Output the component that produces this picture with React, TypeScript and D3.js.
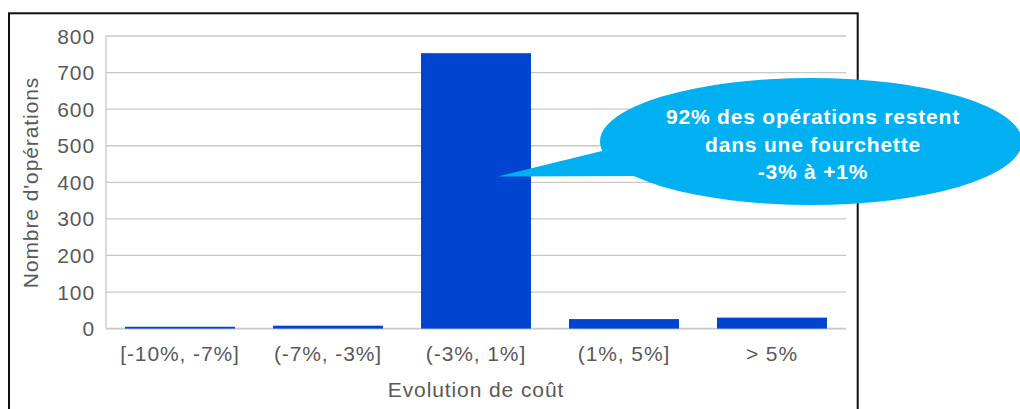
import React from "react";
import * as d3 from "d3";

const categories = ["[-10%, -7%]", "(-7%, -3%]", "(-3%, 1%]", "(1%, 5%]", "> 5%"];
const values = [5, 8, 753, 26, 30];
const yTicks = [0, 100, 200, 300, 400, 500, 600, 700, 800];
const yTitle = "Nombre d'opérations";
const xTitle = "Evolution de coût";
const calloutLines = ["92% des opérations restent", "dans une fourchette", "-3% à +1%"];

const W = 1020;
const H = 409;
const FONT = "'Liberation Sans', Arial, sans-serif";
const TEXT = "#595959";

export default function App() {
  const x = d3.scaleBand<string>().domain(categories).range([106, 846]).paddingInner(0.257).paddingOuter(0.1285);
  const y = d3.scaleLinear().domain([0, 800]).range([328.6, 36]);

  const cx = 811, cy = 141.5, rx = 211, ry = 63.5;
  const tail = d3.line()([[498, 176.5], [606, 150], [640, 176]]) + "Z";

  return (
    <svg width={W} height={H} style={{ position: "absolute", left: 0, top: 0, fontFamily: FONT }}>
      <rect x={0} y={0} width={W} height={H} fill="#fff" />
      {/* frame */}
      <rect x={9} y={13.3} width={848.7} height={500} fill="none" stroke="#111" strokeWidth={2} />
      {/* gridlines */}
      {yTicks.map((t) => (
        <line key={t} x1={106} x2={846} y1={y(t)} y2={y(t)} stroke="#c8c8c8" strokeWidth={t === 0 ? 1.6 : 1.3} />
      ))}
      <line x1={106} x2={106} y1={y(800)} y2={y(0)} stroke="#c8c8c8" strokeWidth={1.3} />
      {/* y tick labels */}
      {yTicks.map((t) => (
        <text key={"l" + t} x={95} y={y(t)} dy="0.36em" textAnchor="end" fontSize={21} letterSpacing={0.9} fill={TEXT}>
          {t}
        </text>
      ))}
      {/* bars */}
      {categories.map((c, i) => (
        <rect key={c} x={x(c)} y={y(values[i])} width={x.bandwidth()} height={y(0) - y(values[i])} fill="#0044cf" />
      ))}
      {/* category labels */}
      {categories.map((c) => (
        <text key={"c" + c} x={(x(c) as number) + x.bandwidth() / 2} y={361} textAnchor="middle" fontSize={21} letterSpacing={0.9} fill={TEXT}>
          {c}
        </text>
      ))}
      <text x={476} y={397} textAnchor="middle" fontSize={21} letterSpacing={0.9} fill={TEXT}>
        {xTitle}
      </text>
      <text transform="translate(38,182.5) rotate(-90)" textAnchor="middle" fontSize={21} letterSpacing={0.9} fill={TEXT}>
        {yTitle}
      </text>
      {/* callout */}
      <ellipse cx={cx} cy={cy} rx={rx} ry={ry} fill="#00b0f0" />
      <path d={tail} fill="#00b0f0" />
      {calloutLines.map((l, i) => (
        <text key={l} x={813} y={124 + i * 27.5} textAnchor="middle" fontSize={21} fontWeight="bold" letterSpacing={0.8} fill="#fff">
          {l}
        </text>
      ))}
    </svg>
  );
}
